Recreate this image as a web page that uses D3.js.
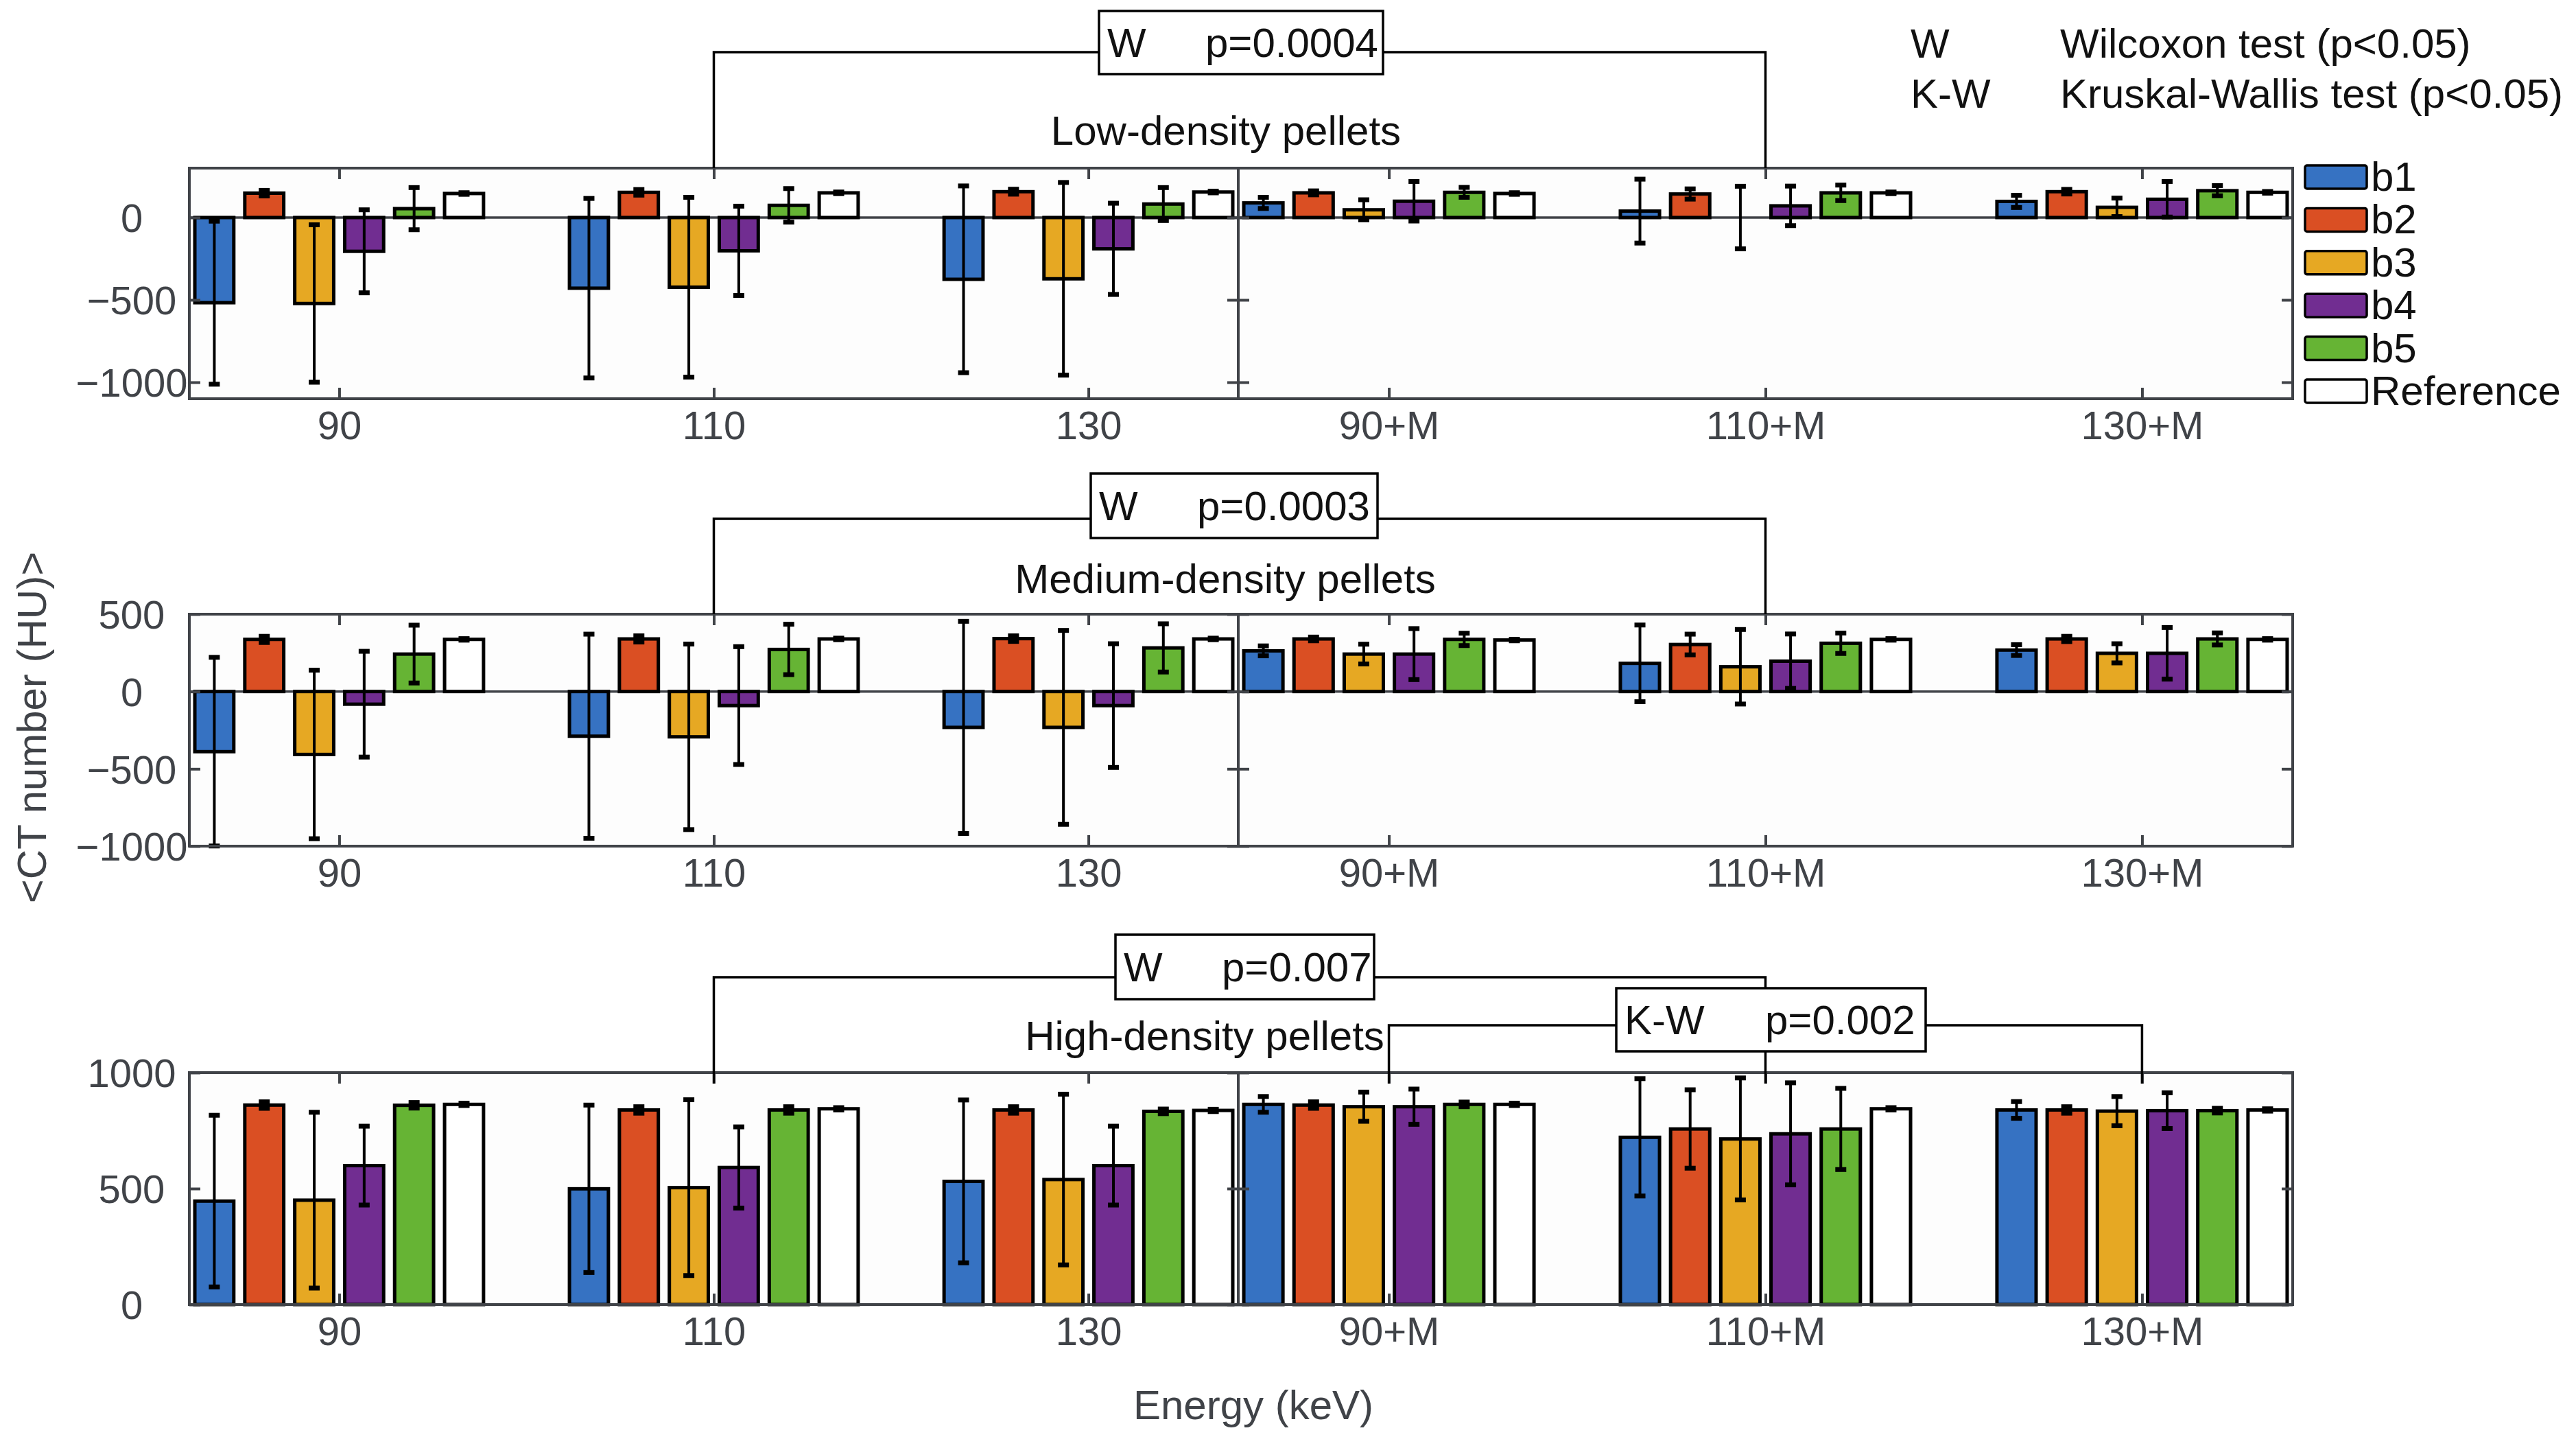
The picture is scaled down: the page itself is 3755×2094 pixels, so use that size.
<!DOCTYPE html>
<html>
<head>
<meta charset="utf-8">
<script src="https://cdn.jsdelivr.net/npm/d3@7"></script>
<style>
  body { margin: 0; background: #fff; }
  svg { display: block; font-family: "Liberation Sans", Arial, sans-serif; }
</style>
</head>
<body>
<div id="chart"></div>
<script>
// energies for the two halves of every panel
var energies = ["90", "110", "130"];
var energiesM = ["90+M", "110+M", "130+M"];
var seriesNames = ["b1", "b2", "b3", "b4", "b5", "Reference"];
var seriesColors = ["#3672C2", "#DA4F23", "#E6A823", "#712D91", "#66B434", "#FFFFFF"];

// rows: 90, 110, 130, 90+M, 110+M, 130+M ; columns: b1..b5, Reference
var lowMean = [
  [-517, 148, -522, -205, 54, 146],
  [-429, 153, -423, -202, 74, 150],
  [-375, 157, -372, -190, 82, 155],
  [89, 150, 47, 99, 153, 146],
  [39, 143, 0, 71, 150, 150],
  [98, 157, 62, 111, 163, 153]
];
var lowErr = [
  [495, 17, 478, 252, 128, 5],
  [545, 17, 546, 271, 102, 5],
  [567, 15, 585, 277, 100, 5],
  [34, 12, 61, 120, 30, 5],
  [194, 31, 190, 120, 47, 5],
  [37, 14, 56, 108, 31, 5]
];
var medMean = [
  [-389, 337, -407, -82, 242, 337],
  [-289, 340, -293, -91, 272, 340],
  [-232, 342, -232, -91, 282, 340],
  [263, 340, 242, 242, 337, 333],
  [182, 304, 160, 196, 312, 337],
  [268, 340, 247, 247, 340, 337]
];
var medErr = [
  [610, 20, 545, 342, 187, 5],
  [660, 20, 600, 381, 163, 5],
  [686, 18, 627, 400, 156, 5],
  [32, 12, 64, 165, 40, 5],
  [248, 67, 241, 176, 66, 5],
  [35, 17, 62, 167, 39, 5]
];
var highMean = [
  [446, 860, 450, 599, 859, 863],
  [499, 839, 504, 591, 839, 844],
  [531, 839, 539, 599, 833, 837],
  [863, 860, 853, 853, 863, 863],
  [721, 757, 714, 736, 757, 844],
  [839, 839, 834, 836, 836, 839]
];
var highErr = [
  [370, 14, 379, 170, 12, 5],
  [361, 14, 379, 175, 14, 5],
  [351, 14, 368, 170, 10, 5],
  [34, 14, 63, 76, 10, 5],
  [253, 169, 263, 220, 175, 5],
  [36, 14, 63, 77, 10, 5]
];

var W = 3755, H = 2094;
var axisColor = "#404348";

var svg = d3.select("#chart").append("svg")
  .attr("width", W)
  .attr("height", H);

var xLeft = d3.scaleLinear().domain([0.6, 3.4]).range([276, 1805]);
var xRight = d3.scaleLinear().domain([0.6, 3.4]).range([1805, 3342]);
var sub = d3.scaleBand().domain(seriesNames).range([-0.4, 0.4]).paddingInner(0.22).paddingOuter(0.11);

var panels = [
  { title: "Low-density pellets", mean: lowMean, err: lowErr, domain: [-1100, 300], ticks: [-1000, -500, 0], top: 245, bottom: 581, titleX: 1787, titleY: 211 },
  { title: "Medium-density pellets", mean: medMean, err: medErr, domain: [-1000, 500], ticks: [-1000, -500, 0, 500], top: 895, bottom: 1233, titleX: 1786, titleY: 864 },
  { title: "High-density pellets", mean: highMean, err: highErr, domain: [0, 1000], ticks: [0, 500, 1000], top: 1563, bottom: 1901, titleX: 1756, titleY: 1530 }
];

function drawSide(parent, p, y, x, cats, offset, withLabels) {
  var g = parent.append("g");
  var x0 = x.range()[0], x1 = x.range()[1];

  g.append("rect")
    .attr("x", x0).attr("y", p.top)
    .attr("width", x1 - x0).attr("height", p.bottom - p.top)
    .attr("fill", "#fdfdfd");

  // baseline
  if (p.domain[0] < 0) {
    g.append("line")
      .attr("x1", x0).attr("x2", x1)
      .attr("y1", y(0)).attr("y2", y(0))
      .attr("stroke", axisColor).attr("stroke-width", 3.5);
  }

  var data = [];
  cats.forEach(function(c, gi) {
    seriesNames.forEach(function(s, si) {
      data.push({ g: gi + 1, s: s, i: si, v: p.mean[gi + offset][si], e: p.err[gi + offset][si] });
    });
  });
  var bw = x(sub.bandwidth()) - x(0);

  g.selectAll(".bar")
    .data(data)
    .enter()
    .append("rect")
    .attr("class", "bar")
    .attr("x", function(d) { return x(d.g + sub(d.s)); })
    .attr("width", bw)
    .attr("y", function(d) { return y(Math.max(d.v, 0)); })
    .attr("height", function(d) { return Math.abs(y(d.v) - y(0)); })
    .attr("fill", function(d) { return seriesColors[d.i]; })
    .attr("stroke", "#000")
    .attr("stroke-width", 5);

  var eb = g.selectAll(".err")
    .data(data)
    .enter()
    .append("g")
    .attr("class", "err")
    .attr("transform", function(d) { return "translate(" + x(d.g + sub(d.s) + sub.bandwidth() / 2) + ",0)"; });
  eb.append("line")
    .attr("y1", function(d) { return y(d.v - d.e); })
    .attr("y2", function(d) { return y(d.v + d.e); })
    .attr("stroke", "#000").attr("stroke-width", 4);
  [-1, 1].forEach(function(sgn) {
    eb.append("line")
      .attr("x1", -8).attr("x2", 8)
      .attr("y1", function(d) { return y(d.v + sgn * d.e); })
      .attr("y2", function(d) { return y(d.v + sgn * d.e); })
      .attr("stroke", "#000").attr("stroke-width", 7);
  });

  // ticks (inward, MATLAB style)
  var bottomAxis = g.append("g")
    .attr("transform", "translate(0," + p.bottom + ")")
    .call(d3.axisBottom(x).tickValues([1, 2, 3]).tickSizeInner(-16).tickSizeOuter(0)
      .tickFormat(function(d) { return cats[d - 1]; }));
  bottomAxis.selectAll("text")
    .attr("dy", null).attr("y", 59)
    .attr("font-size", 58).attr("font-family", "Liberation Sans, Arial, sans-serif")
    .attr("fill", axisColor);

  g.append("g")
    .attr("transform", "translate(0," + p.top + ")")
    .call(d3.axisTop(x).tickValues([1, 2, 3]).tickSizeInner(-16).tickSizeOuter(0).tickFormat(""));

  var leftAxis = g.append("g")
    .attr("transform", "translate(" + x0 + ",0)")
    .call(d3.axisLeft(y).tickValues(p.ticks).tickSizeInner(-16).tickSizeOuter(0)
      .tickFormat(withLabels ? function(d) { return d < 0 ? "\u2212" + (-d) : d; } : ""));
  if (withLabels) {
    leftAxis.selectAll("text")
      .attr("x", -84).attr("dy", "0.36em")
      .attr("text-anchor", "middle")
      .attr("font-size", 58).attr("font-family", "Liberation Sans, Arial, sans-serif")
      .attr("fill", axisColor);
  }

  g.append("g")
    .attr("transform", "translate(" + x1 + ",0)")
    .call(d3.axisRight(y).tickValues(p.ticks).tickSizeInner(-16).tickSizeOuter(0).tickFormat(""));

  g.selectAll(".domain").remove();
  g.selectAll(".tick line").attr("stroke", axisColor).attr("stroke-width", 4);

  g.append("rect")
    .attr("x", x0).attr("y", p.top)
    .attr("width", x1 - x0).attr("height", p.bottom - p.top)
    .attr("fill", "none")
    .attr("stroke", axisColor).attr("stroke-width", 4);
}

panels.forEach(function(p) {
  var g = svg.append("g");
  var y = d3.scaleLinear().domain(p.domain).range([p.bottom, p.top]);
  p.y = y;
  drawSide(g, p, y, xLeft, energies, 0, true);
  drawSide(g, p, y, xRight, energiesM, 3, false);

  g.append("text")
    .attr("x", p.titleX).attr("y", p.titleY)
    .attr("text-anchor", "middle")
    .attr("font-size", 60).attr("fill", "#111")
    .text(p.title);
});

// significance brackets
var ann = svg.append("g").attr("fill", "none").attr("stroke", "#000").attr("stroke-width", 3.5);
var boxes = [
  { test: "W", p: "p=0.0004", x0: 1602, x1: 2016, y0: 16, y1: 108, pX: 1757 },
  { test: "W", p: "p=0.0003", x0: 1590, x1: 2008, y0: 690, y1: 784, pX: 1745 },
  { test: "W", p: "p=0.007", x0: 1626, x1: 2003, y0: 1362, y1: 1456, pX: 1781 },
  { test: "K-W", p: "p=0.002", x0: 2356, x1: 2807, y0: 1440, y1: 1532, pX: 2573 }
];
var lineY = [76, 756, 1424];
[0, 1, 2].forEach(function(i) {
  var p = panels[i], b = boxes[i];
  var end = i === 2 ? p.top + 16 : p.top;
  ann.append("path")
    .attr("d", "M" + xLeft(2) + "," + end + "V" + lineY[i] + "H" + b.x0 +
      "M" + b.x1 + "," + lineY[i] + "H" + xRight(2) + "V" + (i === 2 ? boxes[3].y0 : end));
});
var kw = boxes[3], hp = panels[2];
ann.append("path")
  .attr("d", "M" + xRight(1) + "," + (hp.top + 16) + "V1494H" + kw.x0 +
    "M" + kw.x1 + ",1494H" + xRight(3) + "V" + (hp.top + 16) +
    "M" + xRight(2) + "," + kw.y1 + "V" + (hp.top + 16));

boxes.forEach(function(b) {
  svg.append("rect")
    .attr("x", b.x0).attr("y", b.y0)
    .attr("width", b.x1 - b.x0).attr("height", b.y1 - b.y0)
    .attr("fill", "#fff").attr("stroke", "#000").attr("stroke-width", 3.5);
  var base = (b.y0 + b.y1) / 2 + 21;
  svg.append("text").attr("x", b.x0 + 12).attr("y", base)
    .attr("font-size", 60).attr("fill", "#111").text(b.test);
  svg.append("text").attr("x", b.pX).attr("y", base)
    .attr("font-size", 60).attr("fill", "#111").text(b.p);
});

// test key
var keyRows = [["W", "Wilcoxon test (p<0.05)"], ["K-W", "Kruskal-Wallis test (p<0.05)"]];
keyRows.forEach(function(r, i) {
  svg.append("text").attr("x", 2785).attr("y", 84 + i * 73)
    .attr("font-size", 60).attr("fill", "#111").text(r[0]);
  svg.append("text").attr("x", 3003).attr("y", 84 + i * 73)
    .attr("font-size", 60).attr("fill", "#111").text(r[1]);
});

// legend
var legend = svg.append("g").attr("transform", "translate(3360,258)");
seriesNames.forEach(function(s, i) {
  legend.append("rect")
    .attr("x", 0).attr("y", i * 62.4 - 17)
    .attr("width", 90).attr("height", 34).attr("rx", 3)
    .attr("fill", seriesColors[i]).attr("stroke", "#000").attr("stroke-width", 3.5);
  legend.append("text")
    .attr("x", 96).attr("y", i * 62.4 + 20)
    .attr("font-size", 60).attr("fill", "#111").text(s);
});

// axis titles
svg.append("text")
  .attr("transform", "translate(67,1060) rotate(-90)")
  .attr("text-anchor", "middle")
  .attr("font-size", 60).attr("fill", axisColor)
  .text("<CT number (HU)>");

svg.append("text")
  .attr("x", 1827).attr("y", 2068)
  .attr("text-anchor", "middle")
  .attr("font-size", 60).attr("fill", axisColor)
  .text("Energy (keV)");
</script>
</body>
</html>
